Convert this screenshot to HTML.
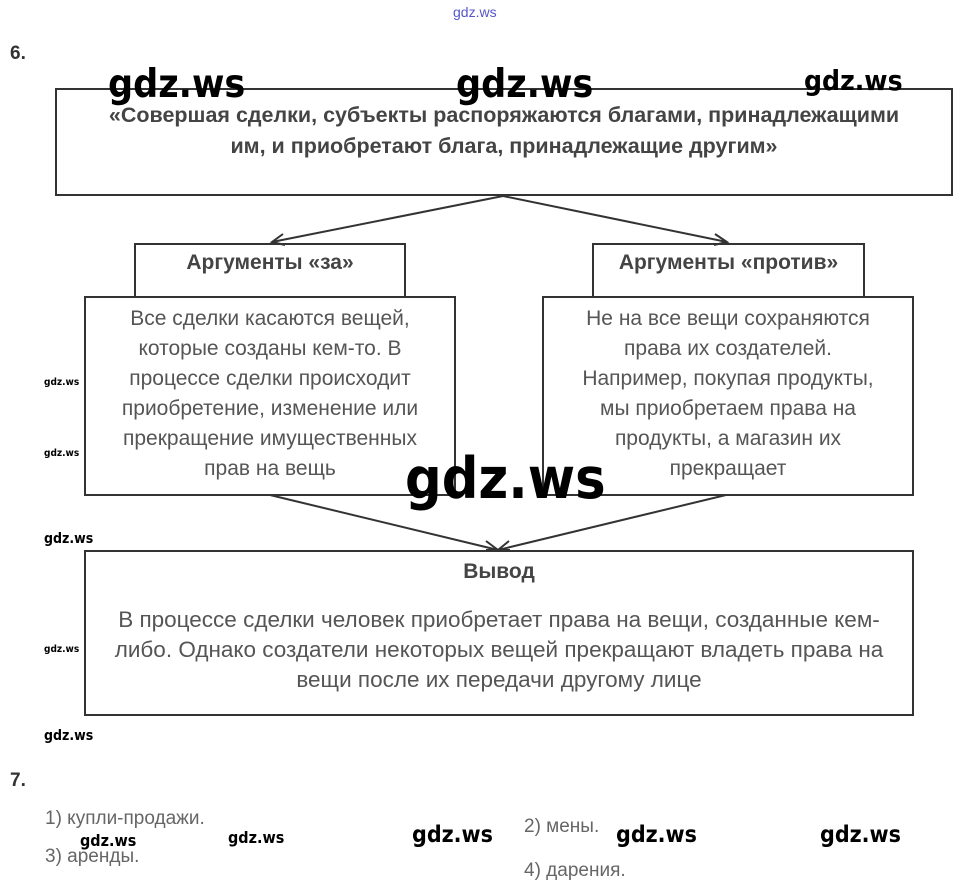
<!DOCTYPE html>
<html><head><meta charset="utf-8"><style>
body{margin:0;width:961px;height:894px;background:#fff;position:relative;overflow:hidden;font-family:"Liberation Sans",sans-serif}
.a{position:absolute;white-space:nowrap}
.box{position:absolute;border:2px solid #333;box-sizing:border-box}
.c{position:absolute;text-align:center;white-space:nowrap}
.t{color:#555;font-size:21px;line-height:30px}
.b{color:#444;font-weight:bold;font-size:19px}
.w{position:absolute;font-family:"DejaVu Sans Condensed","Liberation Sans Narrow",sans-serif;font-weight:bold;color:#000;white-space:nowrap}
.g{color:#666;font-size:19px}
</style></head><body>
<div class="a" style="left:453px;top:4px;font-size:14px;color:#55c">gdz.ws</div>
<div class="a" style="left:10px;top:43px;font-size:19px;font-weight:bold;color:#333">6.</div>

<div class="box" style="left:55px;top:88px;width:898px;height:108px"></div>
<div class="c b" style="left:55px;width:898px;top:100px;line-height:31px;font-size:21.5px">«Совершая сделки, субъекты распоряжаются благами, принадлежащими<br>им, и приобретают блага, принадлежащие другим»</div>

<svg width="961" height="894" style="position:absolute;left:0;top:0" fill="none" stroke="#333" stroke-width="2">
<line x1="503" y1="196" x2="272" y2="242"/><polyline points="283,234 272,242 285,245"/>
<line x1="503" y1="196" x2="727" y2="242"/><polyline points="715,234 727,242 714,245"/>
<line x1="270" y1="495" x2="498" y2="550"/><polyline points="486,541 498,550 486,550"/>
<line x1="726" y1="495" x2="498" y2="550"/><polyline points="509,541 498,550 510,550"/>
</svg>

<div class="box" style="left:134px;top:243px;width:272px;height:55px"></div>
<div class="c b" style="left:134px;width:272px;top:251px;font-size:21px">Аргументы «за»</div>
<div class="box" style="left:592px;top:243px;width:273px;height:55px"></div>
<div class="c b" style="left:592px;width:273px;top:251px;font-size:21px">Аргументы «против»</div>

<div class="box" style="left:84px;top:296px;width:372px;height:200px"></div>
<div class="c t" style="left:84px;width:372px;top:304px">Все сделки касаются вещей,<br>которые созданы кем-то. В<br>процессе сделки происходит<br>приобретение, изменение или<br>прекращение имущественных<br>прав на вещь</div>
<div class="box" style="left:542px;top:296px;width:372px;height:200px"></div>
<div class="c t" style="left:542px;width:372px;top:304px">Не на все вещи сохраняются<br>права их создателей.<br>Например, покупая продукты,<br>мы приобретаем права на<br>продукты, а магазин их<br>прекращает</div>

<div class="box" style="left:84px;top:550px;width:830px;height:166px"></div>
<div class="c b" style="left:84px;width:830px;top:560px;font-size:21px">Вывод</div>
<div class="c t" style="left:84px;width:830px;top:605px;font-size:22.5px">В процессе сделки человек приобретает права на вещи, созданные кем-<br>либо. Однако создатели некоторых вещей прекращают владеть права на<br>вещи после их передачи другому лице</div>

<div class="a" style="left:10px;top:770px;font-size:19px;font-weight:bold;color:#333">7.</div>
<div class="a g" style="left:45px;top:808px">1) купли-продажи.</div>
<div class="a g" style="left:45px;top:846px">3) аренды.</div>
<div class="a g" style="left:524px;top:816px">2) мены.</div>
<div class="a g" style="left:524px;top:860px">4) дарения.</div>

<div class="w" style="left:108px;top:62px;font-size:39px">gdz.ws</div>
<div class="w" style="left:456px;top:62px;font-size:39px">gdz.ws</div>
<div class="w" style="left:804px;top:64px;font-size:28px">gdz.ws</div>
<div class="w" style="left:405px;top:446px;font-size:57px">gdz.ws</div>
<div class="w" style="left:44px;top:377px;font-size:10px">gdz.ws</div>
<div class="w" style="left:44px;top:448px;font-size:10px">gdz.ws</div>
<div class="w" style="left:44px;top:531px;font-size:14px">gdz.ws</div>
<div class="w" style="left:44px;top:644px;font-size:10px">gdz.ws</div>
<div class="w" style="left:44px;top:728px;font-size:14px">gdz.ws</div>
<div class="w" style="left:80px;top:831px;font-size:16px">gdz.ws</div>
<div class="w" style="left:228px;top:828px;font-size:16px">gdz.ws</div>
<div class="w" style="left:412px;top:822px;font-size:23px">gdz.ws</div>
<div class="w" style="left:616px;top:822px;font-size:23px">gdz.ws</div>
<div class="w" style="left:820px;top:822px;font-size:23px">gdz.ws</div>
</body></html>
